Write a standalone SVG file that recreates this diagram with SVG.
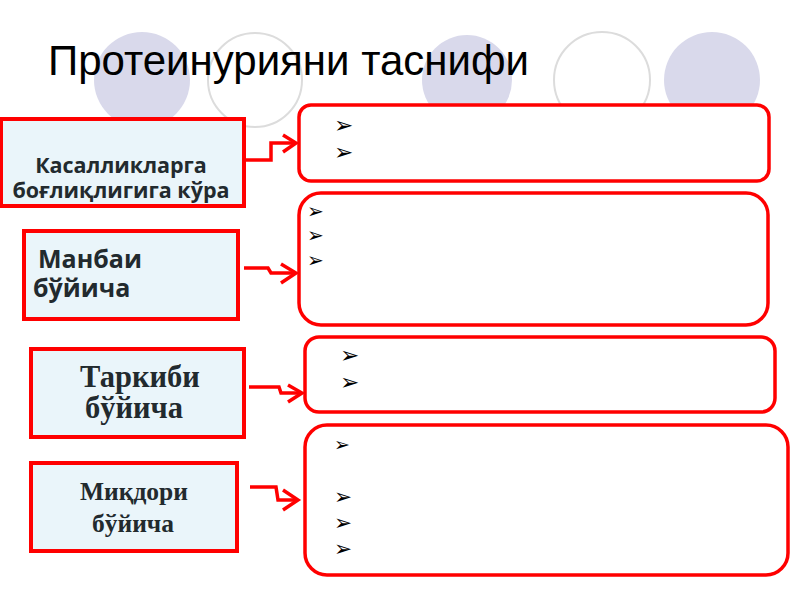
<svg xmlns="http://www.w3.org/2000/svg" width="800" height="600" viewBox="0 0 800 600">
<defs>
<style>
.bg{fill:#d9d9eb;stroke:none}
.ring{fill:#ffffff;stroke:#dcdcdc;stroke-width:2}
.lbox{fill:#eaf5fa;stroke:#ff0000;stroke-width:4}
.rbox{fill:#ffffff;stroke:#ff0000;stroke-width:3.5}
.conn{fill:none;stroke:#ff0000;stroke-width:3.5;stroke-linejoin:miter}
.sans{font-family:"Open Sans","Noto Sans","DejaVu Sans",sans-serif;font-weight:bold;fill:#222a2e}
.serif{font-family:"Liberation Serif","DejaVu Serif",serif;font-weight:bold;fill:#222a2e}
.bul{font-family:"DejaVu Sans",sans-serif;fill:#000}
</style>
</defs>
<rect width="800" height="600" fill="#ffffff"/>
<g id="background">
<circle class="bg" cx="142" cy="80" r="48"/>
<circle class="ring" cx="255" cy="80" r="47"/>
<circle class="bg" cx="467" cy="80" r="45"/>
<circle class="ring" cx="602" cy="80" r="48"/>
<circle class="bg" cx="712" cy="80" r="48"/>
</g>
<text id="title" x="48" y="75" font-family="Liberation Sans, Arial, sans-serif" font-size="42" fill="#000">Протеинурияни таснифи</text>
<g id="connectors">
<path class="conn" d="M245,160 H271 V143 H294"/>
<path class="conn" d="M283,135 L296,143 L283,152"/>
<path class="conn" d="M244,268 H268 L271,273 H294"/>
<path class="conn" d="M281,264 L296,273 L281,283"/>
<path class="conn" d="M249,387 H279 L281,393 H300"/>
<path class="conn" d="M288,385 L302,393 L288,402"/>
<path class="conn" d="M250,487 H276 L278,500 H297"/>
<path class="conn" d="M283,490 L298,500 L283,510"/>
</g>
<g id="node-kasallik">
<rect class="lbox" x="1" y="119" width="243" height="87"/>
<text class="sans" font-size="21.5" text-anchor="middle" x="121" y="173">Касалликларга</text>
<text class="sans" font-size="21.5" text-anchor="middle" x="121" y="198">боғлиқлигига кўра</text>
</g>
<g id="node-manbai">
<rect class="lbox" x="24" y="231" width="214" height="88"/>
<text class="sans" font-size="25" x="38" y="268">Манбаи</text>
<text class="sans" font-size="25" x="33" y="297">бўйича</text>
</g>
<g id="node-tarkibi">
<rect class="lbox" x="31" y="349" width="213" height="88"/>
<text class="serif" font-size="30.5" text-anchor="middle" x="140" y="387">Таркиби</text>
<text class="serif" font-size="30.5" text-anchor="middle" x="134" y="418">бўйича</text>
</g>
<g id="node-miqdori">
<rect class="lbox" x="31" y="463" width="206" height="88"/>
<text class="serif" font-size="25.5" text-anchor="middle" x="134" y="500">Миқдори</text>
<text class="serif" font-size="25.5" text-anchor="middle" x="133" y="532">бўйича</text>
</g>
<g id="list-1">
<rect class="rbox" x="299" y="105" width="470" height="76" rx="12"/>
<text class="bul" font-size="23" x="334" y="133">➢</text>
<text class="bul" font-size="23" x="334" y="160">➢</text>
</g>
<g id="list-2">
<rect class="rbox" x="299" y="193" width="469" height="132" rx="22"/>
<text class="bul" font-size="20" x="307" y="218">➢</text>
<text class="bul" font-size="20" x="307" y="242">➢</text>
<text class="bul" font-size="20" x="307" y="267">➢</text>
</g>
<g id="list-3">
<rect class="rbox" x="305" y="337" width="470" height="75" rx="14"/>
<text class="bul" font-size="23" x="340" y="363">➢</text>
<text class="bul" font-size="23" x="340" y="390">➢</text>
</g>
<g id="list-4">
<rect class="rbox" x="305" y="425" width="483" height="150" rx="22"/>
<text class="bul" font-size="19" x="334" y="451">➢</text>
<text class="bul" font-size="21.5" x="334" y="504">➢</text>
<text class="bul" font-size="21.5" x="334" y="530">➢</text>
<text class="bul" font-size="21.5" x="334" y="556">➢</text>
</g>
</svg>
